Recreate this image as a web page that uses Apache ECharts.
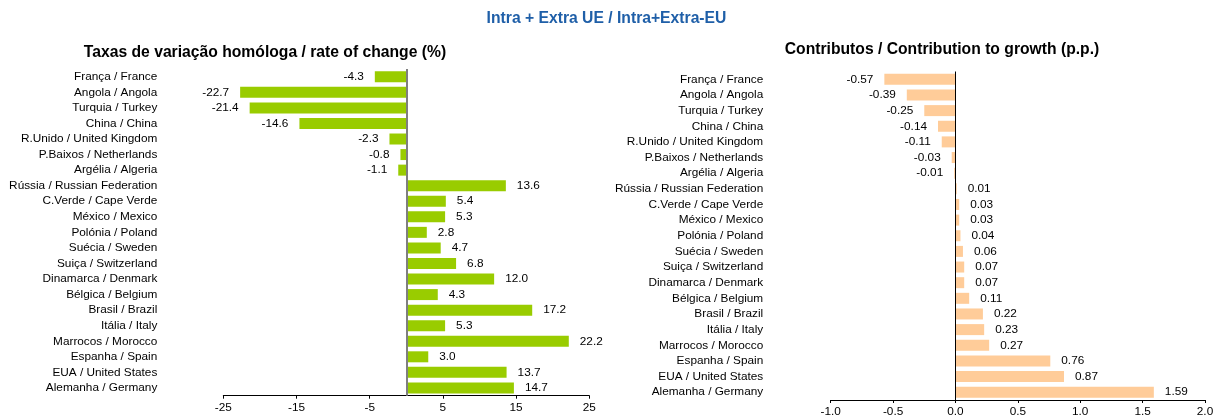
<!DOCTYPE html>
<html>
<head>
<meta charset="utf-8">
<script src="https://cdn.jsdelivr.net/npm/echarts@6/dist/echarts.min.js"></script>
<style>
html,body{margin:0;padding:0;background:#fff;}
#chart{width:1213px;height:416px;}
</style>
</head>
<body>
<div id="chart"></div>
<script>
const mainTitle = 'Intra + Extra UE / Intra+Extra-EU';
const leftTitle = 'Taxas de variação homóloga / rate of change (%)';
const rightTitle = 'Contributos / Contribution to growth (p.p.)';

const categories = [
  'França / France', 'Angola / Angola', 'Turquia / Turkey', 'China / China',
  'R.Unido / United Kingdom', 'P.Baixos / Netherlands', 'Argélia / Algeria',
  'Rússia / Russian Federation', 'C.Verde / Cape Verde', 'México / Mexico',
  'Polónia / Poland', 'Suécia / Sweden', 'Suiça / Switzerland',
  'Dinamarca / Denmark', 'Bélgica / Belgium', 'Brasil / Brazil',
  'Itália / Italy', 'Marrocos / Morocco', 'Espanha / Spain',
  'EUA / United States', 'Alemanha / Germany'
];

const rateOfChange = [-4.3, -22.7, -21.4, -14.6, -2.3, -0.8, -1.1, 13.6, 5.4, 5.3,
  2.8, 4.7, 6.8, 12.0, 4.3, 17.2, 5.3, 22.2, 3.0, 13.7, 14.7];

const contribution = [-0.57, -0.39, -0.25, -0.14, -0.11, -0.03, -0.01, 0.01, 0.03, 0.03,
  0.04, 0.06, 0.07, 0.07, 0.11, 0.22, 0.23, 0.27, 0.76, 0.87, 1.59];

const FONT = '"Liberation Sans", Arial, sans-serif';
const LABEL_SIZE = 11.8;

function withLabels(values) {
  return values.map(v => ({ value: v, label: { position: v < 0 ? 'left' : 'right' } }));
}

const chart = echarts.init(document.getElementById('chart'), null, { renderer: 'canvas' });

const catAxis = (gridIndex, margin) => ({
  type: 'category', gridIndex: gridIndex, data: categories, inverse: true,
  axisLine: { show: false }, axisTick: { show: false },
  axisLabel: { color: '#000', fontSize: LABEL_SIZE, fontFamily: FONT, margin: margin,
    interval: 0, hideOverlap: false }
});

const valAxis = (gridIndex, min, max, interval, dec) => ({
  type: 'value', gridIndex: gridIndex, min: min, max: max, interval: interval,
  splitLine: { show: false },
  axisLine: { show: true, onZero: false, lineStyle: { color: '#000', width: 1 } },
  axisTick: { show: true, length: 3, lineStyle: { color: '#000' } },
  axisLabel: { color: '#000', fontSize: LABEL_SIZE, fontFamily: FONT, margin: 6,
    formatter: v => dec ? v.toFixed(dec) : String(v) }
});

chart.setOption({
  animation: false,
  backgroundColor: '#fff',
  title: [
    { text: mainTitle, left: 'center', top: 6,
      textStyle: { color: '#1F5FA8', fontSize: 15.7, fontWeight: 'bold', fontFamily: FONT } },
    { text: leftTitle, left: 260, top: 40, textAlign: 'center',
      textStyle: { color: '#000', fontSize: 15.7, fontWeight: 'bold', fontFamily: FONT } },
    { text: rightTitle, left: 937, top: 37, textAlign: 'center',
      textStyle: { color: '#000', fontSize: 15.7, fontWeight: 'bold', fontFamily: FONT } }
  ],
  grid: [
    { left: 223.3, top: 69, width: 366, height: 326.7, outerBoundsMode: 'none', containLabel: false },
    { left: 830.7, top: 71.5, width: 374.3, height: 328.5, outerBoundsMode: 'none', containLabel: false }
  ],
  xAxis: [
    valAxis(0, -25, 25, 10, 0),
    valAxis(1, -1, 2, 0.5, 1)
  ],
  yAxis: [catAxis(0, 66), catAxis(1, 67.5)],
  series: [
    {
      type: 'bar', xAxisIndex: 0, yAxisIndex: 0, barWidth: 11,
      data: withLabels(rateOfChange),
      itemStyle: { color: '#99CC00' },
      label: { show: true, distance: 11, color: '#000', fontSize: LABEL_SIZE, fontFamily: FONT,
        formatter: p => p.value.toFixed(1) },
      markLine: { silent: true, symbol: 'none', label: { show: false },
        lineStyle: { color: '#7f7f7f', width: 2, type: 'solid' },
        data: [{ xAxis: 0 }] }
    },
    {
      type: 'bar', xAxisIndex: 1, yAxisIndex: 1, barWidth: 11,
      data: withLabels(contribution),
      itemStyle: { color: '#FFCC99' },
      label: { show: true, distance: 11, color: '#000', fontSize: LABEL_SIZE, fontFamily: FONT,
        formatter: p => p.value.toFixed(2) },
      markLine: { silent: true, symbol: 'none', label: { show: false },
        lineStyle: { color: '#000', width: 1, type: 'solid' },
        data: [{ xAxis: 0 }] }
    }
  ]
});
</script>
</body>
</html>
